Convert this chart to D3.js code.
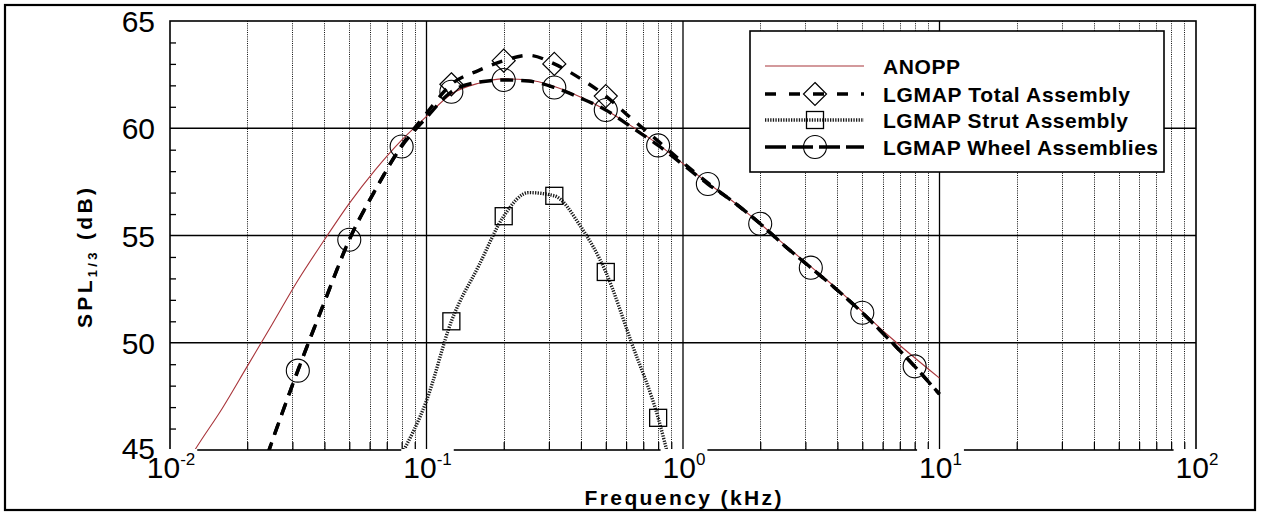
<!DOCTYPE html>
<html>
<head>
<meta charset="utf-8">
<script src="https://cdn.jsdelivr.net/npm/d3@7"></script>
<style>
  body { margin: 0; background: #fff; }
  svg { display: block; }
  text { font-family: "Liberation Sans", Arial, Helvetica, sans-serif; fill: #000; }
</style>
</head>
<body>
<svg id="chart" width="1264" height="512"></svg>
<script>
// One-third octave band centre frequencies (kHz)
const anoppFreq = [0.010, 0.0125, 0.016, 0.020, 0.025, 0.0315, 0.040, 0.050, 0.063, 0.080,
                   0.100, 0.125, 0.160, 0.200, 0.250, 0.315, 0.400, 0.500, 0.630, 0.800,
                   1.000, 1.250, 1.600, 2.000, 2.500, 3.150, 4.000, 5.000, 6.300, 8.000, 10.000];
const anoppDb = [43.0, 45.0, 46.95, 48.9, 50.85, 52.9, 54.8, 56.5, 58.05, 59.45,
                 60.55, 61.6, 62.1, 62.3, 62.25, 61.95, 61.45, 60.85, 60.1, 59.25,
                 58.35, 57.45, 56.5, 55.55, 54.55, 53.55, 52.5, 51.45, 50.35, 49.3, 48.35];

const lgmapFreq = [0.020, 0.025, 0.0315, 0.040, 0.050, 0.063, 0.080, 0.100, 0.125, 0.160,
                   0.200, 0.250, 0.315, 0.400, 0.500, 0.630, 0.800, 1.000, 1.250, 1.600,
                   2.000, 2.500, 3.150, 4.000, 5.000, 6.300, 8.000, 10.000];
const totalDb = [42.0, 45.4, 48.7, 51.9, 54.8, 57.1, 59.2, 60.7, 62.05, 62.7,
                 63.15, 63.4, 63.0, 62.3, 61.5, 60.45, 59.4, 58.4, 57.45, 56.5,
                 55.55, 54.5, 53.5, 52.45, 51.4, 50.2, 48.9, 47.6];
const wheelDb = [42.0, 45.4, 48.7, 51.9, 54.8, 57.1, 59.15, 60.5, 61.7, 62.15,
                 62.25, 62.2, 61.9, 61.4, 60.85, 60.05, 59.2, 58.3, 57.4, 56.5,
                 55.55, 54.5, 53.5, 52.45, 51.4, 50.2, 48.9, 47.6];

const strutFreq = [0.080, 0.100, 0.125, 0.160, 0.200, 0.250, 0.315, 0.400, 0.500, 0.630, 0.800, 1.000];
const strutDb = [44.8, 47.3, 51.0, 53.6, 55.9, 57.0, 56.85, 55.4, 53.3, 50.0, 46.5, 41.7];

// Frequencies that carry a symbol
const totalMarkFreq = [0.125, 0.200, 0.315, 0.500];
const strutMarkFreq = [0.125, 0.200, 0.315, 0.500, 0.800];
const wheelMarkFreq = [0.0315, 0.050, 0.080, 0.125, 0.200, 0.315, 0.500, 0.800, 1.250, 2.000, 3.150, 5.000, 8.000];

// Axis ticks
const yMajorTicks = [45, 50, 55, 60, 65];
const xDecadeExps = [-2, -1, 0, 1, 2];

const legendLabels = ["ANOPP", "LGMAP Total Assembly", "LGMAP Strut Assembly", "LGMAP Wheel Assemblies"];

// ---------------------------------------------------------------
const svg = d3.select("#chart");
const L = 170, R = 1196, T = 21, B = 450;

const x = d3.scaleLog().domain([0.01, 100]).range([L, R]);
const y = d3.scaleLinear().domain([45, 65]).range([B, T]);

// outer border
svg.append("rect").attr("x", 5).attr("y", 5).attr("width", 1250).attr("height", 505)
  .attr("fill", "none").attr("stroke", "#000").attr("stroke-width", 2.2);

svg.append("defs").append("clipPath").attr("id", "plotClip")
  .append("rect").attr("x", L).attr("y", T).attr("width", R - L).attr("height", B - T);

const grid = svg.append("g");

// minor vertical grid lines (dotted)
const minorFreqs = [];
for (let e = -2; e < 2; e++) for (let k = 2; k <= 9; k++) minorFreqs.push(k * Math.pow(10, e));
grid.selectAll("line.minor").data(minorFreqs).join("line")
  .attr("x1", d => Math.round(x(d)) + 0.5).attr("x2", d => Math.round(x(d)) + 0.5)
  .attr("y1", T).attr("y2", B)
  .attr("stroke", "#111").attr("stroke-width", 1).attr("stroke-dasharray", "1,1.2");

// major vertical grid lines
grid.selectAll("line.vmaj").data([0.1, 1, 10]).join("line")
  .attr("x1", d => x(d)).attr("x2", d => x(d)).attr("y1", T).attr("y2", B)
  .attr("stroke", "#000").attr("stroke-width", 1.3);

// horizontal grid lines
grid.selectAll("line.hmaj").data([50, 55, 60]).join("line")
  .attr("x1", L).attr("x2", R).attr("y1", d => y(d)).attr("y2", d => y(d))
  .attr("stroke", "#000").attr("stroke-width", 1.3);

// minor ticks via d3 axes
const yMinor = d3.range(46, 65).filter(v => v % 5 !== 0);
const yAxis = svg.append("g").attr("transform", `translate(${L},0)`)
  .call(d3.axisLeft(y).tickValues(yMinor).tickSize(-6).tickFormat(""));
yAxis.select(".domain").remove();
yAxis.selectAll(".tick line").attr("stroke", "#000").attr("stroke-width", 1.3);

const xAxis = svg.append("g").attr("transform", `translate(0,${B})`)
  .call(d3.axisBottom(x).tickValues(minorFreqs).tickSize(-8).tickFormat(""));
xAxis.select(".domain").remove();
xAxis.selectAll(".tick line").attr("stroke", "#000").attr("stroke-width", 1.2);

// plot frame
svg.append("rect").attr("x", L).attr("y", T).attr("width", R - L).attr("height", B - T)
  .attr("fill", "none").attr("stroke", "#000").attr("stroke-width", 1.6);

// ---------------------------------------------------------------
// curves
const plot = svg.append("g").attr("clip-path", "url(#plotClip)");
const line = d3.line().x(d => x(d[0])).y(d => y(d[1])).curve(d3.curveMonotoneX);
const zip = (a, b) => a.map((v, i) => [v, b[i]]);

const styles = {
  anopp: { stroke: "#a8343a", width: 1.1, dash: null },
  total: { stroke: "#000", width: 3.4, dash: "11,10" },
  strut: { stroke: "#1a1a1a", width: 3.4, dash: "1.3,1.3" },
  wheel: { stroke: "#000", width: 3.4, dash: "13,8" }
};

function drawCurve(data, s) {
  plot.append("path").datum(data).attr("d", line)
    .attr("fill", "none").attr("stroke", s.stroke).attr("stroke-width", s.width)
    .attr("stroke-dasharray", s.dash);
}
drawCurve(zip(anoppFreq, anoppDb), styles.anopp);
drawCurve(zip(strutFreq, strutDb), styles.strut);
drawCurve(zip(lgmapFreq, wheelDb), styles.wheel);
drawCurve(zip(lgmapFreq, totalDb), styles.total);

// symbols
const lookup = (fs, vs, f) => vs[fs.indexOf(f)];
function diamond(g, cx, cy) {
  g.append("path").attr("d", `M${cx},${cy - 11.5}L${cx + 11.5},${cy}L${cx},${cy + 11.5}L${cx - 11.5},${cy}Z`)
    .attr("fill", "none").attr("stroke", "#000").attr("stroke-width", 1.2);
}
function square(g, cx, cy) {
  g.append("rect").attr("x", cx - 8.5).attr("y", cy - 8.5).attr("width", 17).attr("height", 17)
    .attr("fill", "none").attr("stroke", "#000").attr("stroke-width", 1.3);
}
function circle(g, cx, cy) {
  g.append("circle").attr("cx", cx).attr("cy", cy).attr("r", 11.5)
    .attr("fill", "none").attr("stroke", "#000").attr("stroke-width", 1.1);
}
const marks = svg.append("g").attr("clip-path", "url(#plotClip)");
wheelMarkFreq.forEach(f => circle(marks, x(f), y(lookup(lgmapFreq, wheelDb, f))));
totalMarkFreq.forEach(f => diamond(marks, x(f), y(lookup(lgmapFreq, totalDb, f))));
strutMarkFreq.forEach(f => square(marks, x(f), y(lookup(strutFreq, strutDb, f))));

// ---------------------------------------------------------------
// x tick labels (powers of ten) on white boxes that break the axis line
xDecadeExps.forEach(e => {
  const g = svg.append("g");
  const bg = g.append("rect").attr("fill", "#fff");
  const t = g.append("text").attr("x", x(Math.pow(10, e)) + 1).attr("y", 478)
    .attr("text-anchor", "middle").attr("font-size", 30);
  t.append("tspan").text("10");
  t.append("tspan").attr("dy", -13).attr("font-size", 17).text(String(e));
  const bb = t.node().getBBox();
  bg.attr("x", bb.x - 2).attr("y", 449).attr("width", bb.width + 4).attr("height", bb.y + bb.height - 449);
});

// y tick labels (the lowest one sits a touch higher, clear of the decade label)
svg.selectAll("text.ylab").data(yMajorTicks).join("text")
  .attr("x", 155).attr("y", d => y(d) + (d === 45 ? 9 : 11))
  .attr("text-anchor", "end").attr("font-size", 30)
  .text(d => d);

// axis titles
svg.append("text").attr("x", 683).attr("y", 505).attr("text-anchor", "middle")
  .attr("font-size", 21).attr("font-weight", "bold")
  .attr("textLength", 197).attr("lengthAdjust", "spacing")
  .text("Frequency (kHz)");

const yt = svg.append("text").attr("transform", "translate(92,258) rotate(-90)")
  .attr("text-anchor", "middle").attr("font-size", 21).attr("font-weight", "bold")
  .attr("textLength", 140).attr("lengthAdjust", "spacing");
yt.append("tspan").text("SPL");
yt.append("tspan").attr("dy", 5).attr("font-size", 13).text("1/3");
yt.append("tspan").attr("dy", -5).text(" (dB)");

// ---------------------------------------------------------------
// legend
const leg = svg.append("g");
leg.append("rect").attr("x", 750).attr("y", 31).attr("width", 414).attr("height", 141)
  .attr("fill", "#fff").attr("stroke", "#000").attr("stroke-width", 1.6);

const rowY = [66, 94, 120, 147];
const legKeys = ["anopp", "total", "strut", "wheel"];
const legDash = { anopp: null, total: "11,13", strut: "1.3,1.3", wheel: "21,6" };
const textLens = [77, 247, 245, 275];
legKeys.forEach((k, i) => {
  const s = styles[k];
  leg.append("line").attr("x1", 765).attr("x2", 864).attr("y1", rowY[i]).attr("y2", rowY[i])
    .attr("stroke", s.stroke).attr("stroke-width", k === "anopp" ? 1.1 : 3.4)
    .attr("stroke-dasharray", legDash[k]);
  if (k === "total") diamond(leg, 815, rowY[i]);
  if (k === "strut") square(leg, 815, rowY[i]);
  if (k === "wheel") circle(leg, 815, rowY[i]);
  leg.append("text").attr("x", 883).attr("y", rowY[i] + 7.5)
    .attr("font-size", 21).attr("font-weight", "bold")
    .attr("textLength", textLens[i]).attr("lengthAdjust", "spacing")
    .text(legendLabels[i]);
});
</script>
</body>
</html>
